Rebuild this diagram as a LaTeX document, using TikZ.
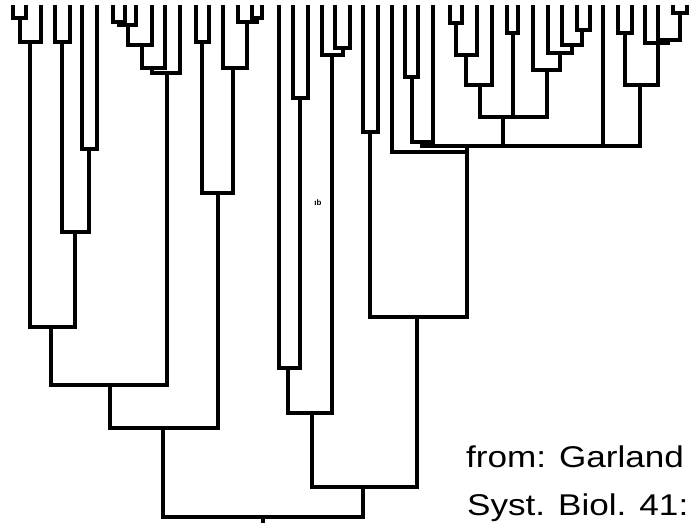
\documentclass[tikz,border=0pt]{standalone}
\usepackage{fontspec}
\setmainfont{Liberation Sans}
\usepackage{tikz}
\usetikzlibrary{arrows}

\begin{document}
\begin{tikzpicture}[x=1pt,y=-1pt,
				branch/.style={line width=3.1pt,black},
				elbow/.style={to path={|- (\tikztotarget)}},
				caption/.style={anchor=base west,inner sep=0pt,
					font=\fontsize{30}{36}\selectfont}]
				\useasboundingbox (0,0) rectangle (692,526);
				
				% leaf tips
				\foreach \i/\x in {1/13,2/26,3/41,4/55,5/70,6/82,7/97,8/113,9/125,10/136,
					11/152,12/165,13/180,14/196,15/209,16/223,17/238,18/252,19/262,20/279,
					21/293,22/308,23/322,24/335,25/350,26/363,27/378,28/392,29/405,30/418,
					31/433,32/450,33/462,34/477,35/492,36/507,37/518,38/533,39/548,40/562,
					41/577,42/590,43/603,44/618,45/632,46/645,47/658,48/673,49/687}
					\coordinate (l\i) at (\x,5);
				
				% inner nodes
				\coordinate (a1) at (20,18);
				\coordinate (a2) at (30,42);
				\coordinate (a3) at (62,42);
				\coordinate (a4) at (89,149);
				\coordinate (a5) at (75,232);
				\coordinate (a6) at (51,327);
				\coordinate (b1) at (119,22);
				\coordinate (b2) at (128,25);
				\coordinate (b3) at (142,45);
				\coordinate (b4) at (152,68);
				\coordinate (b5) at (167,73);
				\coordinate (a7) at (110,385);
				\coordinate (c1) at (202,42);
				\coordinate (c2) at (257,18);
				\coordinate (c3) at (247,22);
				\coordinate (c4) at (233,68);
				\coordinate (c5) at (218,193);
				\coordinate (a8) at (163,428);
				\coordinate (d1) at (300,98);
				\coordinate (d2) at (288,368);
				\coordinate (d3) at (343,48);
				\coordinate (d4) at (332,55);
				\coordinate (d5) at (312,413);
				\coordinate (e1) at (370,132);
				\coordinate (e2) at (412,77);
				\coordinate (e3) at (422,142);
				\coordinate (f1) at (456,23);
				\coordinate (f2) at (466,55);
				\coordinate (f3) at (480,85);
				\coordinate (f4) at (513,33);
				\coordinate (f5) at (582,30);
				\coordinate (f6) at (572,45);
				\coordinate (f7) at (560,53);
				\coordinate (f8) at (547,70);
				\coordinate (f9) at (503,117);
				\coordinate (g1) at (625,33);
				\coordinate (g2) at (680,13);
				\coordinate (g3) at (668,40);
				\coordinate (g4) at (658,43);
				\coordinate (g5) at (640,85);
				\coordinate (h1) at (467,146);
				\coordinate (h2) at (467,152);
				\coordinate (e4) at (417,317);
				\coordinate (d6) at (363,487);
				\coordinate (root) at (263,517);
				\coordinate (tick) at (263,523);
				
				\path[branch,every edge/.style={draw,elbow}]
				(l1) edge (a1) (l2) edge (a1)
				(a1) edge (a2) (l3) edge (a2)
				(l4) edge (a3) (l5) edge (a3)
				(l6) edge (a4) (l7) edge (a4)
				(a3) edge (a5) (a4) edge (a5)
				(a2) edge (a6) (a5) edge (a6)
				(l8) edge (b1) (l9) edge (b1)
				(b1) edge (b2) (l10) edge (b2)
				(b2) edge (b3) (l11) edge (b3)
				(b3) edge (b4) (l12) edge (b4)
				(b4) edge (b5) (l13) edge (b5)
				(a6) edge (a7) (b5) edge (a7)
				(l14) edge (c1) (l15) edge (c1)
				(l18) edge (c2) (l19) edge (c2)
				(l17) edge (c3) (c2) edge (c3)
				(l16) edge (c4) (c3) edge (c4)
				(c1) edge (c5) (c4) edge (c5)
				(a7) edge (a8) (c5) edge (a8)
				(l21) edge (d1) (l22) edge (d1)
				(l20) edge (d2) (d1) edge (d2)
				(l24) edge (d3) (l25) edge (d3)
				(l23) edge (d4) (d3) edge (d4)
				(d2) edge (d5) (d4) edge (d5)
				(l26) edge (e1) (l27) edge (e1)
				(l29) edge (e2) (l30) edge (e2)
				(e2) edge (e3) (l31) edge (e3)
				(l32) edge (f1) (l33) edge (f1)
				(f1) edge (f2) (l34) edge (f2)
				(f2) edge (f3) (l35) edge (f3)
				(l36) edge (f4) (l37) edge (f4)
				(l41) edge (f5) (l42) edge (f5)
				(l40) edge (f6) (f5) edge (f6)
				(l39) edge (f7) (f6) edge (f7)
				(l38) edge (f8) (f7) edge (f8)
				(f3) edge (f9) (f4) edge (f9) (f8) edge (f9)
				(l44) edge (g1) (l45) edge (g1)
				(l48) edge (g2) (l49) edge (g2)
				(l47) edge (g3) (g2) edge (g3)
				(l46) edge (g4) (g3) edge (g4)
				(g1) edge (g5) (g4) edge (g5)
				(e3) edge (h1) (f9) edge (h1) (l43) edge (h1) (g5) edge (h1)
				(h1) edge (h2) (l28) edge (h2)
				(e1) edge (e4) (h2) edge (e4)
				(d5) edge (d6) (e4) edge (d6)
				(a8) edge (root) (d6) edge (root);
				\draw[branch] (root) -- (tick);
				
				\node[font=\fontsize{8}{8}\selectfont\bfseries] (mark) at (318,203) {\i b};
				\node[caption] (src1) at (466,467) {\scalebox{1.17}[1]{from: Garland}};
				\node[caption] (src2) at (467,515) {\scalebox{1.17}[1]{Syst. Biol. 41:}};
			\end{tikzpicture}
\end{document}
